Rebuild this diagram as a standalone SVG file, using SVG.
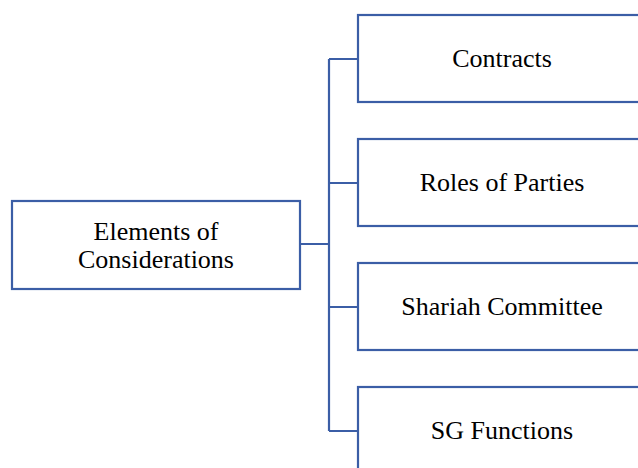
<svg xmlns="http://www.w3.org/2000/svg" width="638" height="468" viewBox="0 0 638 468">
<style>
.box{fill:#fff;stroke:#3B5EA6;stroke-width:2.2}
.lbl{font-family:"Liberation Serif","Times New Roman",serif;font-size:26px;fill:#000;text-anchor:middle}
.con{fill:none;stroke:#3B5EA6;stroke-width:2.2}
</style>
<rect width="638" height="468" fill="#fff"/>
<g id="connectors">
<path class="con" d="M300 244 H329 M329 59 V431 M329 59 H358 M329 183 H358 M329 307 H358 M329 431 H358"/>
</g>
<g id="root">
<rect class="box" x="12" y="201" width="288" height="88"/>
<text class="lbl" x="156" y="240">Elements of</text>
<text class="lbl" x="156" y="268">Considerations</text>
</g>
<g id="contracts">
<rect class="box" x="358" y="15" width="290" height="87"/>
<text class="lbl" x="502" y="67">Contracts</text>
</g>
<g id="roles">
<rect class="box" x="358" y="139" width="290" height="87"/>
<text class="lbl" x="502" y="191">Roles of Parties</text>
</g>
<g id="shariah">
<rect class="box" x="358" y="263" width="290" height="87"/>
<text class="lbl" x="502" y="315">Shariah Committee</text>
</g>
<g id="sg">
<rect class="box" x="358" y="387" width="290" height="87"/>
<text class="lbl" x="502" y="439">SG Functions</text>
</g>
</svg>
